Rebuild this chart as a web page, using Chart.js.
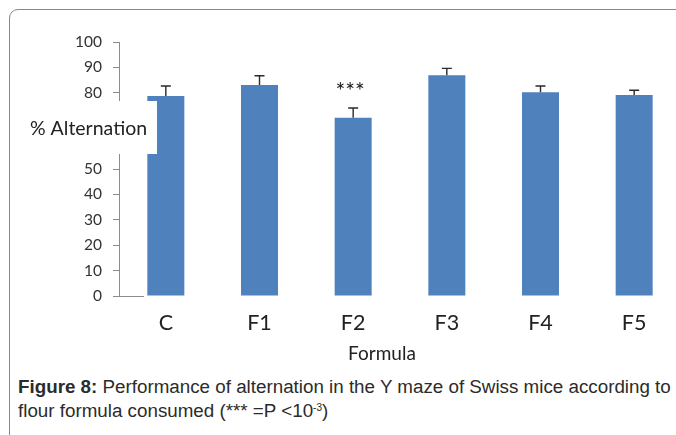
<!DOCTYPE html>
<html>
<head>
<meta charset="utf-8">
<script src="https://cdn.jsdelivr.net/npm/chart.js@4.4.0/dist/chart.umd.min.js"></script>
<style>
  html, body { margin: 0; padding: 0; background: #fff; overflow: hidden; }
  body { width: 676px; height: 435px; position: relative; }
  .frame {
    position: absolute; left: 9px; top: 9px; width: 720px; height: 460px;
    border: 1.5px solid #888; border-radius: 9px 0 0 0; box-sizing: border-box;
  }
  #wrap { position: absolute; left: 0; top: 0; width: 700px; height: 368px; }
  .caption {
    position: absolute; left: 18px; top: 375px; width: 680px;
    font-family: "Liberation Sans", Arial, sans-serif;
    font-size: 18.8px; line-height: 24px; color: #2b2b2b; white-space: nowrap;
  }
  .caption b { font-weight: bold; }
  .caption sup { font-size: 10px; vertical-align: 6px; line-height: 0; }
</style>
</head>
<body>
<div class="frame"></div>
<div id="wrap"><canvas id="chart"></canvas></div>
<div class="caption">
  <div><b>Figure 8:</b> Performance of alternation in the Y maze of Swiss mice according to</div>
  <div>flour formula consumed (*** =P &lt;10<sup>-3</sup>)</div>
</div>
<script>
const categories = ['C', 'F1', 'F2', 'F3', 'F4', 'F5'];
const alternation = [78.7, 83.1, 70.2, 86.9, 80.2, 79.1];
const errors = [4.0, 3.6, 3.8, 2.7, 2.5, 1.9];
const significance = ['', '', '***', '', '', ''];
const yTicks = [0, 10, 20, 30, 40, 50, 60, 70, 80, 90, 100];

const barColor = '#4F81BD';
const axisColor = '#8c8c8c';

// error bars, significance marks, axis titles and the stub of the x axis
const extras = {
  id: 'extras',
  afterDatasetsDraw(chart) {
    const ctx = chart.ctx;
    const x = chart.scales.x, y = chart.scales.y;
    const area = chart.chartArea;
    ctx.save();

    ctx.strokeStyle = '#2a2a2a';
    ctx.lineWidth = 1.4;
    alternation.forEach((v, i) => {
      const cx = x.getPixelForValue(i);
      const top = y.getPixelForValue(v + errors[i]);
      const base = y.getPixelForValue(v);
      ctx.beginPath();
      ctx.moveTo(cx, base);
      ctx.lineTo(cx, top);
      ctx.moveTo(cx - 5, top);
      ctx.lineTo(cx + 5, top);
      ctx.stroke();
      if (significance[i]) {
        ctx.fillStyle = '#222';
        ctx.font = '23px Lato';
        ctx.textAlign = 'center';
        ctx.textBaseline = 'middle';
        ctx.fillText(significance[i], cx - 3, top - 16);
      }
    });

    ctx.strokeStyle = axisColor;
    ctx.lineWidth = 1;
    ctx.beginPath();
    ctx.moveTo(area.left - 6, area.bottom + 0.5);
    ctx.lineTo(area.left + 25, area.bottom + 0.5);
    ctx.stroke();

    ctx.fillStyle = '#fff';
    ctx.fillRect(20, 101, 137, 53);
    ctx.fillStyle = '#222';
    ctx.font = '19.5px Lato';
    ctx.textAlign = 'left';
    ctx.textBaseline = 'middle';
    ctx.fillText('% Alternation', 30, 129);

    ctx.font = '19px Lato';
    ctx.textAlign = 'center';
    ctx.fillText('Formula', 382, 354);
    ctx.restore();
  }
};

new Chart(document.getElementById('chart'), {
  type: 'bar',
  data: {
    labels: categories,
    datasets: [{
      data: alternation,
      backgroundColor: barColor,
      borderWidth: 0,
      barPercentage: 0.395,
      categoryPercentage: 1
    }]
  },
  options: {
    responsive: true,
    maintainAspectRatio: false,
    animation: false,
    layout: { padding: { top: 42, left: 0, right: 19, bottom: 0 } },
    plugins: { legend: { display: false }, tooltip: { enabled: false } },
    scales: {
      x: {
        grid: { display: false },
        border: { display: false },
        ticks: { color: '#222', font: { family: 'Lato', size: 21.5 }, padding: 6 },
        afterFit(scale) { scale.height = 72; }
      },
      y: {
        min: 0, max: 100,
        afterBuildTicks(scale) { scale.ticks = yTicks.map(v => ({ value: v })); },
        grid: { drawOnChartArea: false, drawTicks: true, tickLength: 6, color: axisColor },
        border: { display: true, color: axisColor },
        ticks: { color: '#333', font: { family: 'Lato', size: 15.5 }, padding: 11 },
        afterFit(scale) { scale.width = 119; }
      }
    }
  },
  plugins: [extras]
});
</script>
</body>
</html>
